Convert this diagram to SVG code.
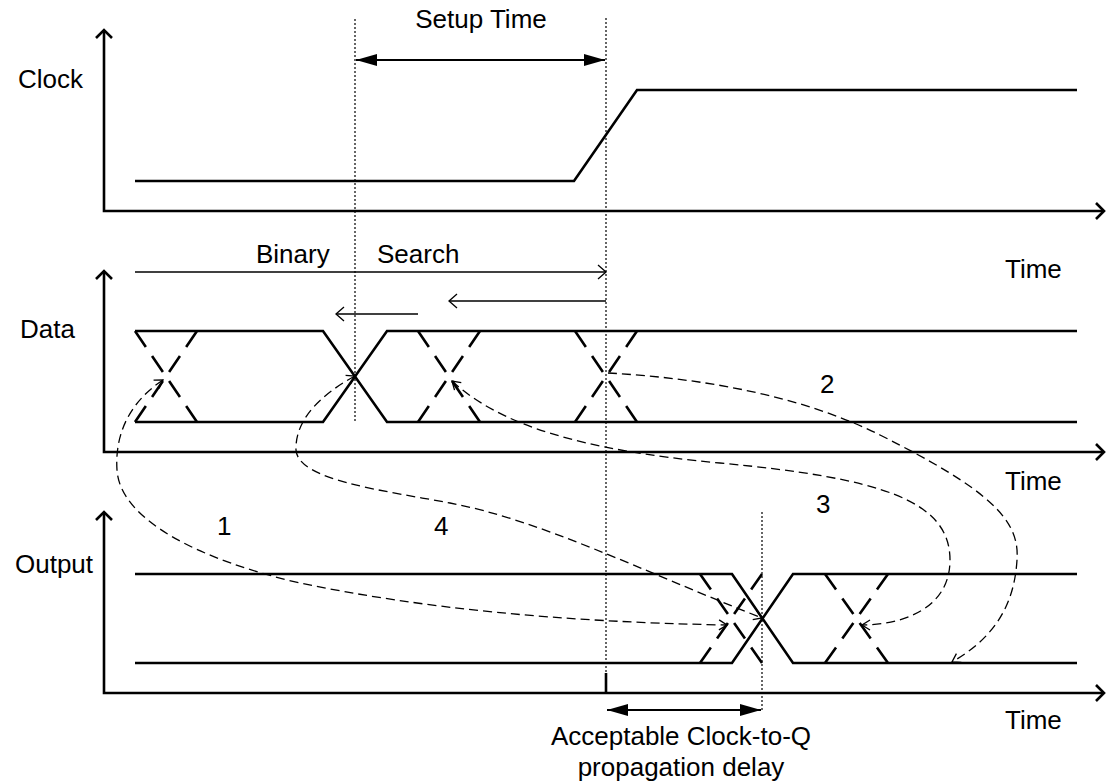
<svg xmlns="http://www.w3.org/2000/svg" width="1107" height="784" viewBox="0 0 1107 784">
<style>
.ax{fill:none;stroke:#000;stroke-width:2.6}
.sig{fill:none;stroke:#000;stroke-width:2.6;stroke-linejoin:miter}
.dx{fill:none;stroke:#000;stroke-width:2.6;stroke-dasharray:17.5 10}
.dot{fill:none;stroke:#000;stroke-width:1.2;stroke-dasharray:2 2}
.thin{fill:none;stroke:#000;stroke-width:1.3}
.dim{fill:none;stroke:#000;stroke-width:2}
.cur{fill:none;stroke:#000;stroke-width:1.3;stroke-dasharray:9 5}
text{font-family:"Liberation Sans",Arial,sans-serif;font-size:26px;fill:#000}
</style>
<defs>
<marker id="chev" markerUnits="userSpaceOnUse" markerWidth="12" markerHeight="20" refX="9" refY="9" orient="auto" overflow="visible">
<path d="M1,1 L9,9 L1,17" fill="none" stroke="#000" stroke-width="2.6"/>
</marker>
<marker id="fill" markerUnits="userSpaceOnUse" markerWidth="22" markerHeight="12" refX="21" refY="6" orient="auto-start-reverse" overflow="visible">
<path d="M0,0 L21,6 L0,12 z" fill="#000"/>
</marker>
<marker id="open" markerUnits="userSpaceOnUse" markerWidth="10" markerHeight="14" refX="9" refY="7" orient="auto" overflow="visible">
<path d="M1,0 L9,7 L1,14" fill="none" stroke="#000" stroke-width="1.3"/>
</marker>
<marker id="sm" markerUnits="userSpaceOnUse" markerWidth="10" markerHeight="12" refX="8" refY="5" orient="auto-start-reverse" overflow="visible">
<path d="M0,0 L8,5 L0,10" fill="none" stroke="#000" stroke-width="1.3"/>
</marker>
</defs>
<rect width="1107" height="784" fill="#fff"/>

<g id="guides">
<line class="dot" x1="355" y1="19" x2="355" y2="423"/>
<line class="dot" x1="606" y1="18" x2="606" y2="673"/>
<line class="sig" x1="606" y1="673" x2="606" y2="693" stroke-width="2"/>
<line class="dot" x1="762" y1="512" x2="762" y2="711"/>
</g>

<g id="clock">
<path class="ax" d="M104,30 L104,211 L1104,211" marker-end="url(#chev)"/>
<path class="ax" d="M96,38 L104,30 L112,38"/>
<path class="sig" d="M135,181 L574,181 L637,90 L1077,90"/>
<text x="18" y="88">Clock</text>
<text x="1005" y="278">Time</text>
</g>

<g id="setup-time">
<line class="dim" x1="356" y1="60" x2="605" y2="60" marker-start="url(#fill)" marker-end="url(#fill)"/>
<text x="481" y="28" text-anchor="middle">Setup Time</text>
</g>

<g id="data">
<path class="ax" d="M104,271 L104,452 L1104,452" marker-end="url(#chev)"/>
<path class="ax" d="M96,279 L104,271 L112,279"/>
<path class="sig" d="M135,331 L323,331 L387,422 L1077,422"/>
<path class="sig" d="M135,422 L323,422 L387,331 L1077,331"/>
<line class="dx" pathLength="100" x1="135" y1="331" x2="197" y2="422"/>
<line class="dx" pathLength="100" x1="197" y1="331" x2="135" y2="422"/>
<line class="dx" pathLength="100" x1="418" y1="331" x2="480" y2="422"/>
<line class="dx" pathLength="100" x1="480" y1="331" x2="418" y2="422"/>
<line class="dx" pathLength="100" x1="575" y1="331" x2="637" y2="422"/>
<line class="dx" pathLength="100" x1="637" y1="331" x2="575" y2="422"/>
<text x="20" y="338">Data</text>
<text x="1005" y="490">Time</text>
</g>

<g id="binary-search">
<line class="thin" x1="135" y1="272" x2="606" y2="272" marker-end="url(#open)"/>
<line class="thin" x1="606" y1="301" x2="449" y2="301" marker-end="url(#open)"/>
<line class="thin" x1="418" y1="314" x2="336" y2="314" marker-end="url(#open)"/>
<text x="256" y="263">Binary</text>
<text x="377" y="263">Search</text>
</g>

<g id="output">
<path class="ax" d="M104,512 L104,693 L1104,693" marker-end="url(#chev)"/>
<path class="ax" d="M96,520 L104,512 L112,520"/>
<path class="sig" d="M135,574 L732,574 L793,663 L1077,663"/>
<path class="sig" d="M135,663 L732,663 L793,574 L1077,574"/>
<line class="dx" pathLength="100" x1="700" y1="574" x2="762" y2="663"/>
<line class="dx" pathLength="100" x1="762" y1="574" x2="700" y2="663"/>
<line class="dx" pathLength="100" x1="825" y1="574" x2="888" y2="663"/>
<line class="dx" pathLength="100" x1="888" y1="574" x2="825" y2="663"/>
<text x="15" y="573">Output</text>
<text x="1005" y="729">Time</text>
</g>

<g id="clock-to-q">
<line class="dim" x1="607" y1="710" x2="761" y2="710" marker-start="url(#fill)" marker-end="url(#fill)"/>
<text x="681" y="745" text-anchor="middle">Acceptable Clock-to-Q</text>
<text x="681" y="776" text-anchor="middle">propagation delay</text>
</g>

<g id="connectors">
<path class="cur" d="M163,380 C125,405 115,440 117,470 C120,520 200,560 300,583 C420,608 560,622 727,625" marker-start="url(#sm)" marker-end="url(#sm)"/>
<path class="cur" d="M608,373 C700,378 800,395 880,435 C990,490 1020,520 1017,560 C1014,610 990,640 952,662" marker-end="url(#sm)"/>
<path class="cur" d="M452,381 C500,425 580,450 720,463 C880,478 950,500 950,560 C950,610 900,625 862,625" marker-start="url(#sm)" marker-end="url(#sm)"/>
<path class="cur" d="M355,376 C320,395 295,420 296,450 C298,480 380,490 450,503 C540,520 640,570 762,618" marker-start="url(#sm)" marker-end="url(#sm)"/>
</g>

<g id="curve-labels">
<text x="217" y="535">1</text>
<text x="820" y="393">2</text>
<text x="816" y="513">3</text>
<text x="434" y="535">4</text>
</g>
</svg>
